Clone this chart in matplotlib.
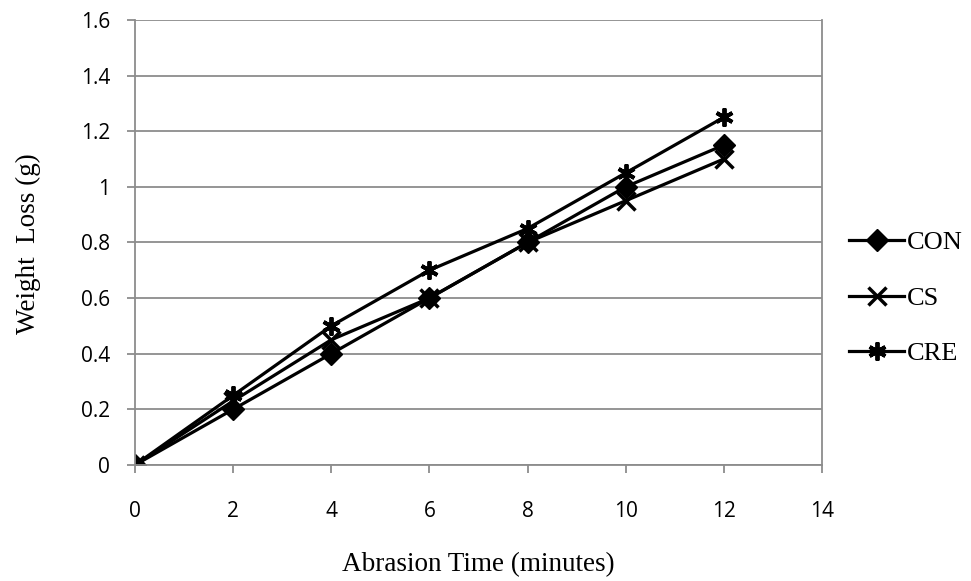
import matplotlib
matplotlib.use('Agg')
import matplotlib.pyplot as plt

time_min = [0, 2, 4, 6, 8, 10, 12]
con = [0, 0.2, 0.4, 0.6, 0.8, 1.0, 1.15]
cs = [0, 0.23, 0.45, 0.6, 0.8, 0.95, 1.1]
cre = [0, 0.25, 0.5, 0.7, 0.85, 1.05, 1.25]

y_ticks = [0, 0.2, 0.4, 0.6, 0.8, 1, 1.2, 1.4, 1.6]
y_labels = ['0', '0.2', '0.4', '0.6', '0.8', '1', '1.2', '1.4', '1.6']

grey = '#8c8c8c'
serif = 'Liberation Serif'

fig = plt.figure(figsize=(9.71, 5.81), dpi=100)
ax = fig.add_axes([0.139, 0.1997, 0.7075, 0.766])

ax.plot(time_min, con, color='black', lw=2.3, marker='D', ms=11, label='CON')
ax.plot(time_min, cs, color='black', lw=2.3, marker='x', ms=13, mew=2.5, label='CS')
ax.plot(time_min, cre, color='black', lw=2.3, marker=(6, 2, 0), ms=13, mew=2.8, label='CRE')

ax.set_xlim(0, 14)
ax.set_ylim(0, 1.6)
ax.set_xticks(range(0, 15, 2))
ax.set_yticks(y_ticks)
ax.set_yticklabels(y_labels)
ax.grid(axis='y', color=grey, lw=1.3)
ax.set_axisbelow(True)
for s in ['left', 'bottom', 'right']:
    ax.spines[s].set_color(grey)
    ax.spines[s].set_linewidth(1.3)
ax.spines['top'].set_visible(False)
ax.tick_params(axis='x', colors=grey, length=6, width=1.3, labelcolor='black', labelsize=15, pad=20)
ax.tick_params(axis='y', colors=grey, length=6, width=1.3, labelcolor='black', labelsize=15, pad=12)
for t in ax.get_xticklabels() + ax.get_yticklabels():
    t.set_fontfamily('Open Sans')

fig.text(0.493, 1 - 565 / 581, 'Abrasion Time (minutes)', family=serif, fontsize=19.5,
         ha='center', va='center')
fig.text(28 / 971, 1 - 244 / 581, 'Weight  Loss (g)', family=serif, fontsize=19.5,
         rotation=90, ha='center', va='center')

leg = fig.legend(loc='center left', bbox_to_anchor=(849 / 971, 1 - 298 / 581), frameon=False,
                 prop={'family': serif, 'size': 19}, borderpad=0, borderaxespad=0,
                 handlelength=2.1, handletextpad=0.08, labelspacing=1.22)

fig.savefig('out.png', dpi=100)
